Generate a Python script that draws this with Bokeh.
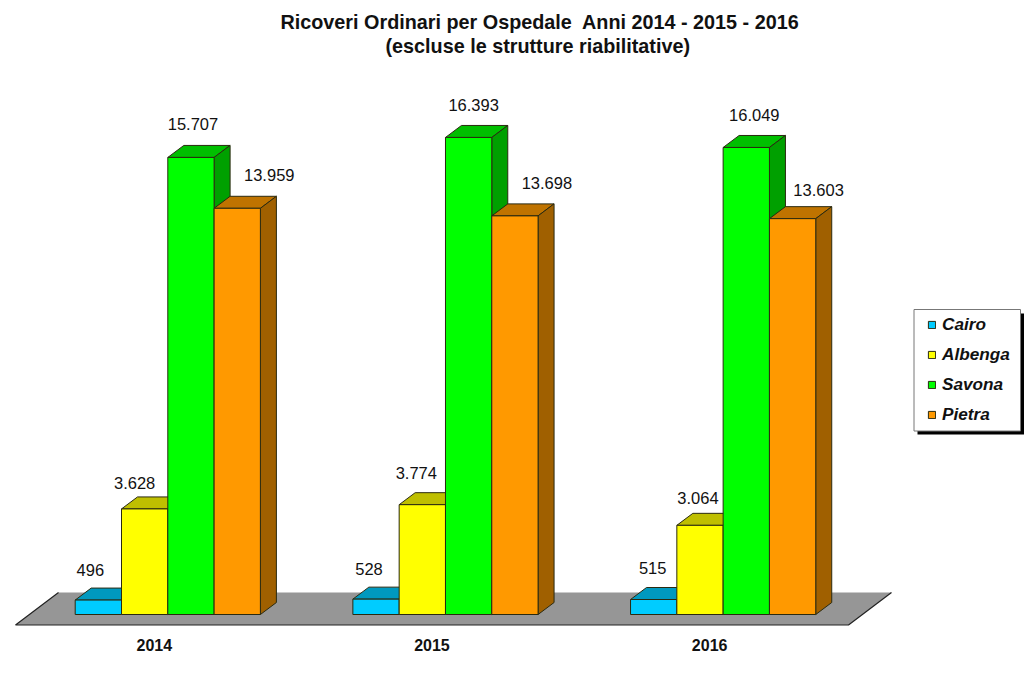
from bokeh.plotting import figure
from bokeh.models import Title, FixedTicker, Legend, LegendItem, ColumnDataSource
from bokeh.core.properties import value
from bokeh.embed import file_html
from bokeh.resources import INLINE

# ---- data ----
years = ["2014", "2015", "2016"]
hospitals = ["Cairo", "Albenga", "Savona", "Pietra"]
cairo = [496, 528, 515]
albenga = [3628, 3774, 3064]
savona = [15707, 16393, 16049]
pietra = [13959, 13698, 13603]
series = [cairo, albenga, savona, pietra]
value_labels = [["496", "528", "515"], ["3.628", "3.774", "3.064"],
                ["15.707", "16.393", "16.049"], ["13.959", "13.698", "13.603"]]

# ---- styles ----
front = ["#00CCFF", "#FFFF00", "#00FF00", "#FF9900"]
top = ["#0099BF", "#BFBF00", "#00BF00", "#BF7300"]
side = ["#0080A0", "#A0A000", "#00A000", "#A06000"]
edge = "#2A2A10"
label_dx = [[-8, -7, -1], [-10, -6, -2], [2, 5, 8], [32, 32, 26]]
label_dy = [[-29.6, -30.6, -32], [-26.4, -31.2, -27.8], [-33.9, -32, -32], [-32.8, -32.4, -29.1]]

# ---- page geometry (pixels of the window) ----
FRAME_TOP, FRAME_BOTTOM, FRAME_LEFT, FRAME_RIGHT = 56, 628, 0, 1024
BASE_PX, PX_PER_VALUE, CAT_PX, CAT0_PX = 614, 0.0291, 277.67, 153.8

def x_at(px):
    return (px - CAT0_PX) / CAT_PX

def y_at(px):
    return (BASE_PX - px) / PX_PER_VALUE

p = figure(width=1024, height=691, toolbar_location=None, output_backend="svg",
           x_range=(x_at(FRAME_LEFT), x_at(FRAME_RIGHT)), y_range=(y_at(FRAME_BOTTOM), y_at(FRAME_TOP)),
           min_border_left=0, min_border_right=0, min_border_top=FRAME_TOP, min_border_bottom=691 - FRAME_BOTTOM,
           outline_line_color=None, background_fill_color=None, border_fill_color="white")
p.grid.visible = False
p.yaxis.visible = False
p.xaxis.ticker = FixedTicker(ticks=list(range(len(years))))
p.xaxis.major_label_overrides = {i: y for i, y in enumerate(years)}
p.xaxis.axis_line_color = None
p.xaxis.major_tick_line_color = None
p.xaxis.minor_tick_line_color = None
p.xaxis.major_label_standoff = 4
p.xaxis.major_label_text_font = "Liberation Sans"
p.xaxis.major_label_text_font_style = "bold"
p.xaxis.major_label_text_font_size = "16px"
p.xaxis.major_label_text_color = "#111111"

for txt, left in [("(escluse le strutture riabilitative)", 385),
                  ("Ricoveri Ordinari per Ospedale\u00a0 Anni 2014 - 2015 - 2016", 280)]:
    t = Title(text=txt, align="left", offset=left, text_font="Liberation Sans",
              text_font_style="bold", text_font_size="19.8px", text_color="#111111",
              standoff=0)
    p.add_layout(t, "above")

# floor
fl, fr, fb, ft = x_at(15), x_at(848), y_at(624.5), y_at(592)
depth_fx = 43 / CAT_PX
p.patch([fl, fr, fr + depth_fx, fl + depth_fx], [fb, fb, ft, ft], fill_color="#969696", line_color=None)
p.line([fl + depth_fx, fl, fr, fr + depth_fx], [ft, fb, fb, ft], line_color="#222222", line_width=1.2)

# bars
BAR_W, BAR_SHIFT = 46.3 / CAT_PX, 13.5 / CAT_PX
DX, DY = 16 / CAT_PX, 12 / PX_PER_VALUE
legend_items = []
for s, (name, vals) in enumerate(zip(hospitals, series)):
    lefts = [i - 2 * BAR_W + s * BAR_W + BAR_SHIFT for i in range(len(vals))]
    rights = [l + BAR_W for l in lefts]
    p.patches([[l, r, r + DX, l + DX] for l, r in zip(lefts, rights)],
              [[v, v, v + DY, v + DY] for v in vals],
              fill_color=top[s], line_color=edge, line_width=1)
    p.patches([[r, r + DX, r + DX, r] for r in rights],
              [[0, DY, v + DY, v] for v in vals],
              fill_color=side[s], line_color=edge, line_width=1)
    q = p.quad(left=lefts, right=rights, bottom=0, top=vals,
               fill_color=front[s], line_color=edge, line_width=1)
    legend_items.append(LegendItem(label=name, renderers=[q]))

# value labels
for s, vals in enumerate(series):
    src = ColumnDataSource(dict(
        x=[i - 2 * BAR_W + (s + 0.5) * BAR_W + BAR_SHIFT for i in range(len(vals))],
        y=vals, t=value_labels[s], dx=label_dx[s], dy=label_dy[s]))
    p.text(x="x", y="y", text="t", x_offset="dx", y_offset="dy", source=src,
           text_font=value("Liberation Sans"), text_font_size="16.5px",
           text_align="center", text_baseline="middle", text_color="#111111")

# legend frame and shadow
p.quad(left=x_at(917), right=x_at(1023.5), top=y_at(313), bottom=y_at(434), fill_color="#000000", line_color=None)
p.quad(left=x_at(913.5), right=x_at(1020), top=y_at(309), bottom=y_at(430.5), fill_color="white", line_color="#777777", line_width=1)

legend = Legend(items=legend_items, location=(927, 203), orientation="vertical",
                background_fill_alpha=0, border_line_color=None, padding=12,
                glyph_width=9, glyph_height=9, label_standoff=6, spacing=9,
                label_text_font="Liberation Sans", label_text_font_style="bold italic",
                label_text_font_size="17.2px", label_text_color="#111111", label_height=21)
p.add_layout(legend, "center")

open("out.html", "w").write(file_html(p, INLINE))
